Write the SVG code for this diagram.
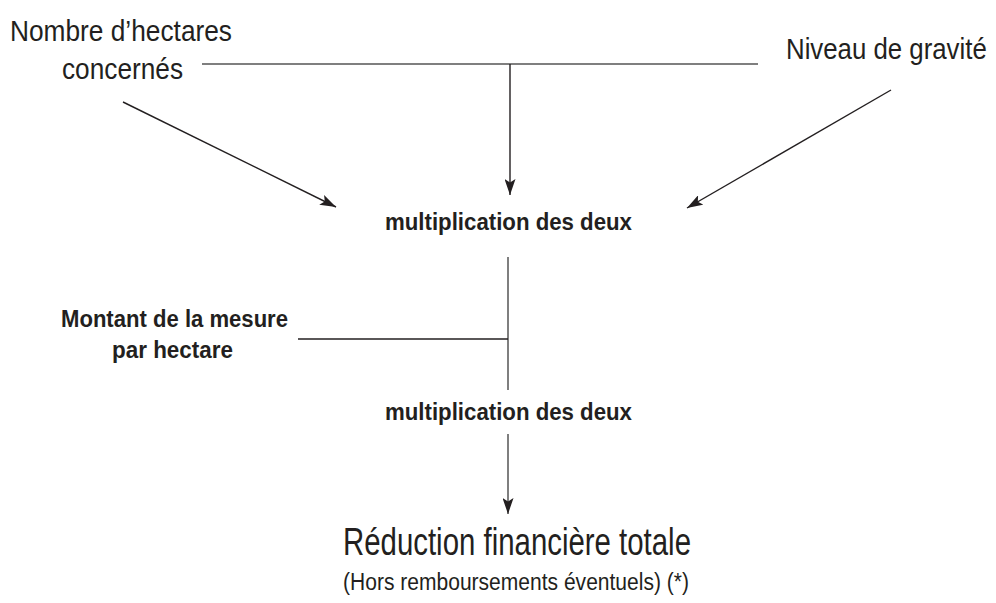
<svg xmlns="http://www.w3.org/2000/svg" width="996" height="603" viewBox="0 0 996 603">
<defs>
<style>
text{font-family:"Liberation Sans",Arial,sans-serif;fill:#231f20}
.lab{font-size:29px}
.bold{font-size:23px;font-weight:bold}
.title{font-size:38px}
.sub{font-size:23px}
.ln{stroke:#231f20;stroke-width:1.4;fill:none}
.gr{stroke:#555;stroke-width:1.5;fill:none}
</style>
<marker id="ah" viewBox="0 0 16 11" refX="16" refY="5.5" markerWidth="16" markerHeight="11" markerUnits="userSpaceOnUse" orient="auto">
<path d="M0,0 L16,5.5 L0,11 L3.5,5.5 Z" fill="#231f20"/>
</marker>
</defs>
<rect width="996" height="603" fill="#fff"/>
<g id="connectors">
<line class="gr" x1="202" y1="64" x2="758" y2="64"/>
<line class="ln" x1="510" y1="64" x2="510" y2="195" marker-end="url(#ah)"/>
<line class="ln" x1="123" y1="102" x2="336" y2="207" marker-end="url(#ah)"/>
<line class="ln" x1="891" y1="90" x2="687" y2="208" marker-end="url(#ah)"/>
<line class="gr" x1="508" y1="257" x2="508" y2="390"/>
<line class="ln" x1="298" y1="339" x2="508" y2="339"/>
<line class="gr" x1="508" y1="434" x2="508" y2="514" marker-end="url(#ah)"/>
</g>
<g id="n-hectares">
<text class="lab" x="10" y="41" textLength="222" lengthAdjust="spacingAndGlyphs">Nombre d’hectares</text>
<text class="lab" x="62" y="79" textLength="121" lengthAdjust="spacingAndGlyphs">concernés</text>
</g>
<g id="n-gravite">
<text class="lab" transform="translate(786 59) scale(0.89 1)" x="0" y="0">Niveau de gravité</text>
</g>
<g id="n-mult1">
<text class="bold" x="385" y="230" textLength="247" lengthAdjust="spacingAndGlyphs">multiplication des deux</text>
</g>
<g id="n-montant">
<text class="bold" x="61" y="327" textLength="227" lengthAdjust="spacingAndGlyphs">Montant de la mesure</text>
<text class="bold" x="112" y="358" textLength="121" lengthAdjust="spacingAndGlyphs">par hectare</text>
</g>
<g id="n-mult2">
<text class="bold" x="385" y="420" textLength="247" lengthAdjust="spacingAndGlyphs">multiplication des deux</text>
</g>
<g id="n-reduction">
<text class="title" x="343" y="555" textLength="348" lengthAdjust="spacingAndGlyphs">Réduction financière totale</text>
<text class="sub" x="343" y="590" textLength="346" lengthAdjust="spacingAndGlyphs">(Hors remboursements éventuels) (*)</text>
</g>
</svg>
